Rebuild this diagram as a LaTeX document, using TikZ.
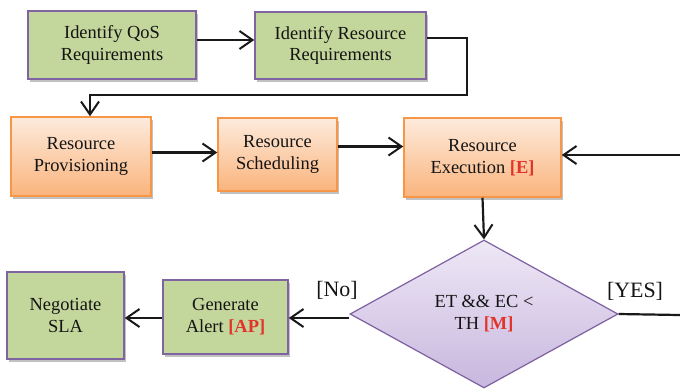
\documentclass[tikz,border=0pt]{standalone}
\usepackage{fontspec}
\setmainfont{Liberation Serif}
\usetikzlibrary{arrows.meta,shapes.geometric,shadows}
\definecolor{gfill}{HTML}{C3D69B}
\definecolor{pborder}{HTML}{8064A2}
\definecolor{otop}{HTML}{FDEBDD}
\definecolor{obot}{HTML}{FAB47C}
\definecolor{oborder}{HTML}{F79646}
\definecolor{dtop}{HTML}{EEE8F6}
\definecolor{dbot}{HTML}{C8B7DE}
\definecolor{dborder}{HTML}{7E5FA0}
\definecolor{redtxt}{HTML}{E3342B}
\tikzset{
  txt/.style={font=\fontsize{18.5}{22}\selectfont, align=center, text=black!92, inner sep=0pt},
  gbox/.style={txt, rectangle, fill=gfill, draw=pborder, line width=1.5bp,
    drop shadow={shadow xshift=2bp, shadow yshift=-2.5bp, fill=black!30, opacity=0.8}},
  obox/.style={txt, rectangle, top color=otop, bottom color=obot, draw=oborder, line width=1.5bp,
    drop shadow={shadow xshift=2bp, shadow yshift=-2.5bp, fill=black!30, opacity=0.8}},
  dbox/.style={txt, diamond, top color=dtop, bottom color=dbot, draw=dborder, line width=1.2bp},
  arr/.style={line width=2.2bp, black!90, -{Straight Barb[length=13bp,width=18bp,line width=2bp]}},
  conn/.style={line width=2.2bp, black!90},
  lbl/.style={font=\fontsize{22}{26}\selectfont, text=black!92, inner sep=0pt}
}
\newcommand{\redb}[1]{\textcolor{redtxt}{\textbf{#1}}}
\begin{document}
\begin{tikzpicture}[x=1bp,y=-1bp]
\useasboundingbox (0,0) rectangle (680,391);
% nodes
\node[gbox, minimum width=168bp, minimum height=68bp] (b1) at (112,45) {Identify QoS\\Requirements};
\node[gbox, minimum width=171bp, minimum height=67bp] (b2) at (340.5,45.5) {Identify Resource\\Requirements};
\node[obox, minimum width=140bp, minimum height=79bp] (prov) at (81,156.5) {Resource\\Provisioning};
\node[obox, minimum width=119bp, minimum height=73bp] (sched) at (277.5,154.5) {Resource\\Scheduling};
\node[obox, minimum width=157bp, minimum height=79bp] (exec) at (482.5,157.5) {Resource\\Execution \redb{[E]}};
\node[dbox, minimum width=268bp, minimum height=148bp] (dia) at (484,314) {ET \&\& EC <\\TH \redb{[M]}};
\node[gbox, minimum width=125bp, minimum height=74bp] (alert) at (225.5,317) {Generate\\Alert \redb{[AP]}};
\node[gbox, minimum width=117bp, minimum height=87bp] (neg) at (65.5,315.5) {Negotiate\\SLA};
% labels
\node[lbl] (no) at (337,290) {[No]};
\node[lbl] (yes) at (635,291) {[YES]};
% coordinates
\coordinate (tr) at (467,95);
\coordinate (tl) at (90,95);
\coordinate (rin) at (680,155);
\coordinate (yout) at (680,315);
% connectors
\draw[arr] ([yshift=5bp]b1.east) -- ([yshift=5bp]b1.east -| b2.west);
\draw[arr] ([yshift=7.5bp]b2.east) -| (tr) -- (tl) -- (tl |- prov.north);
\draw[arr] ([yshift=4bp]prov.east) -- ([yshift=4bp]prov.east -| sched.west);
\draw[arr] ([yshift=8bp]sched.east) -- ([yshift=8bp]sched.east -| exec.west);
\draw[arr] (rin) -- (rin -| exec.east);
\draw[arr] (exec.south) -- (dia.north);
\draw[conn] (dia.east) -- (yout);
\draw[arr] ([yshift=-4bp]dia.west) -- ([yshift=-4bp]dia.west -| alert.east);
\draw[arr] ([yshift=-1bp]alert.west) -- ([yshift=-1bp]alert.west -| neg.east);
\end{tikzpicture}
\end{document}
